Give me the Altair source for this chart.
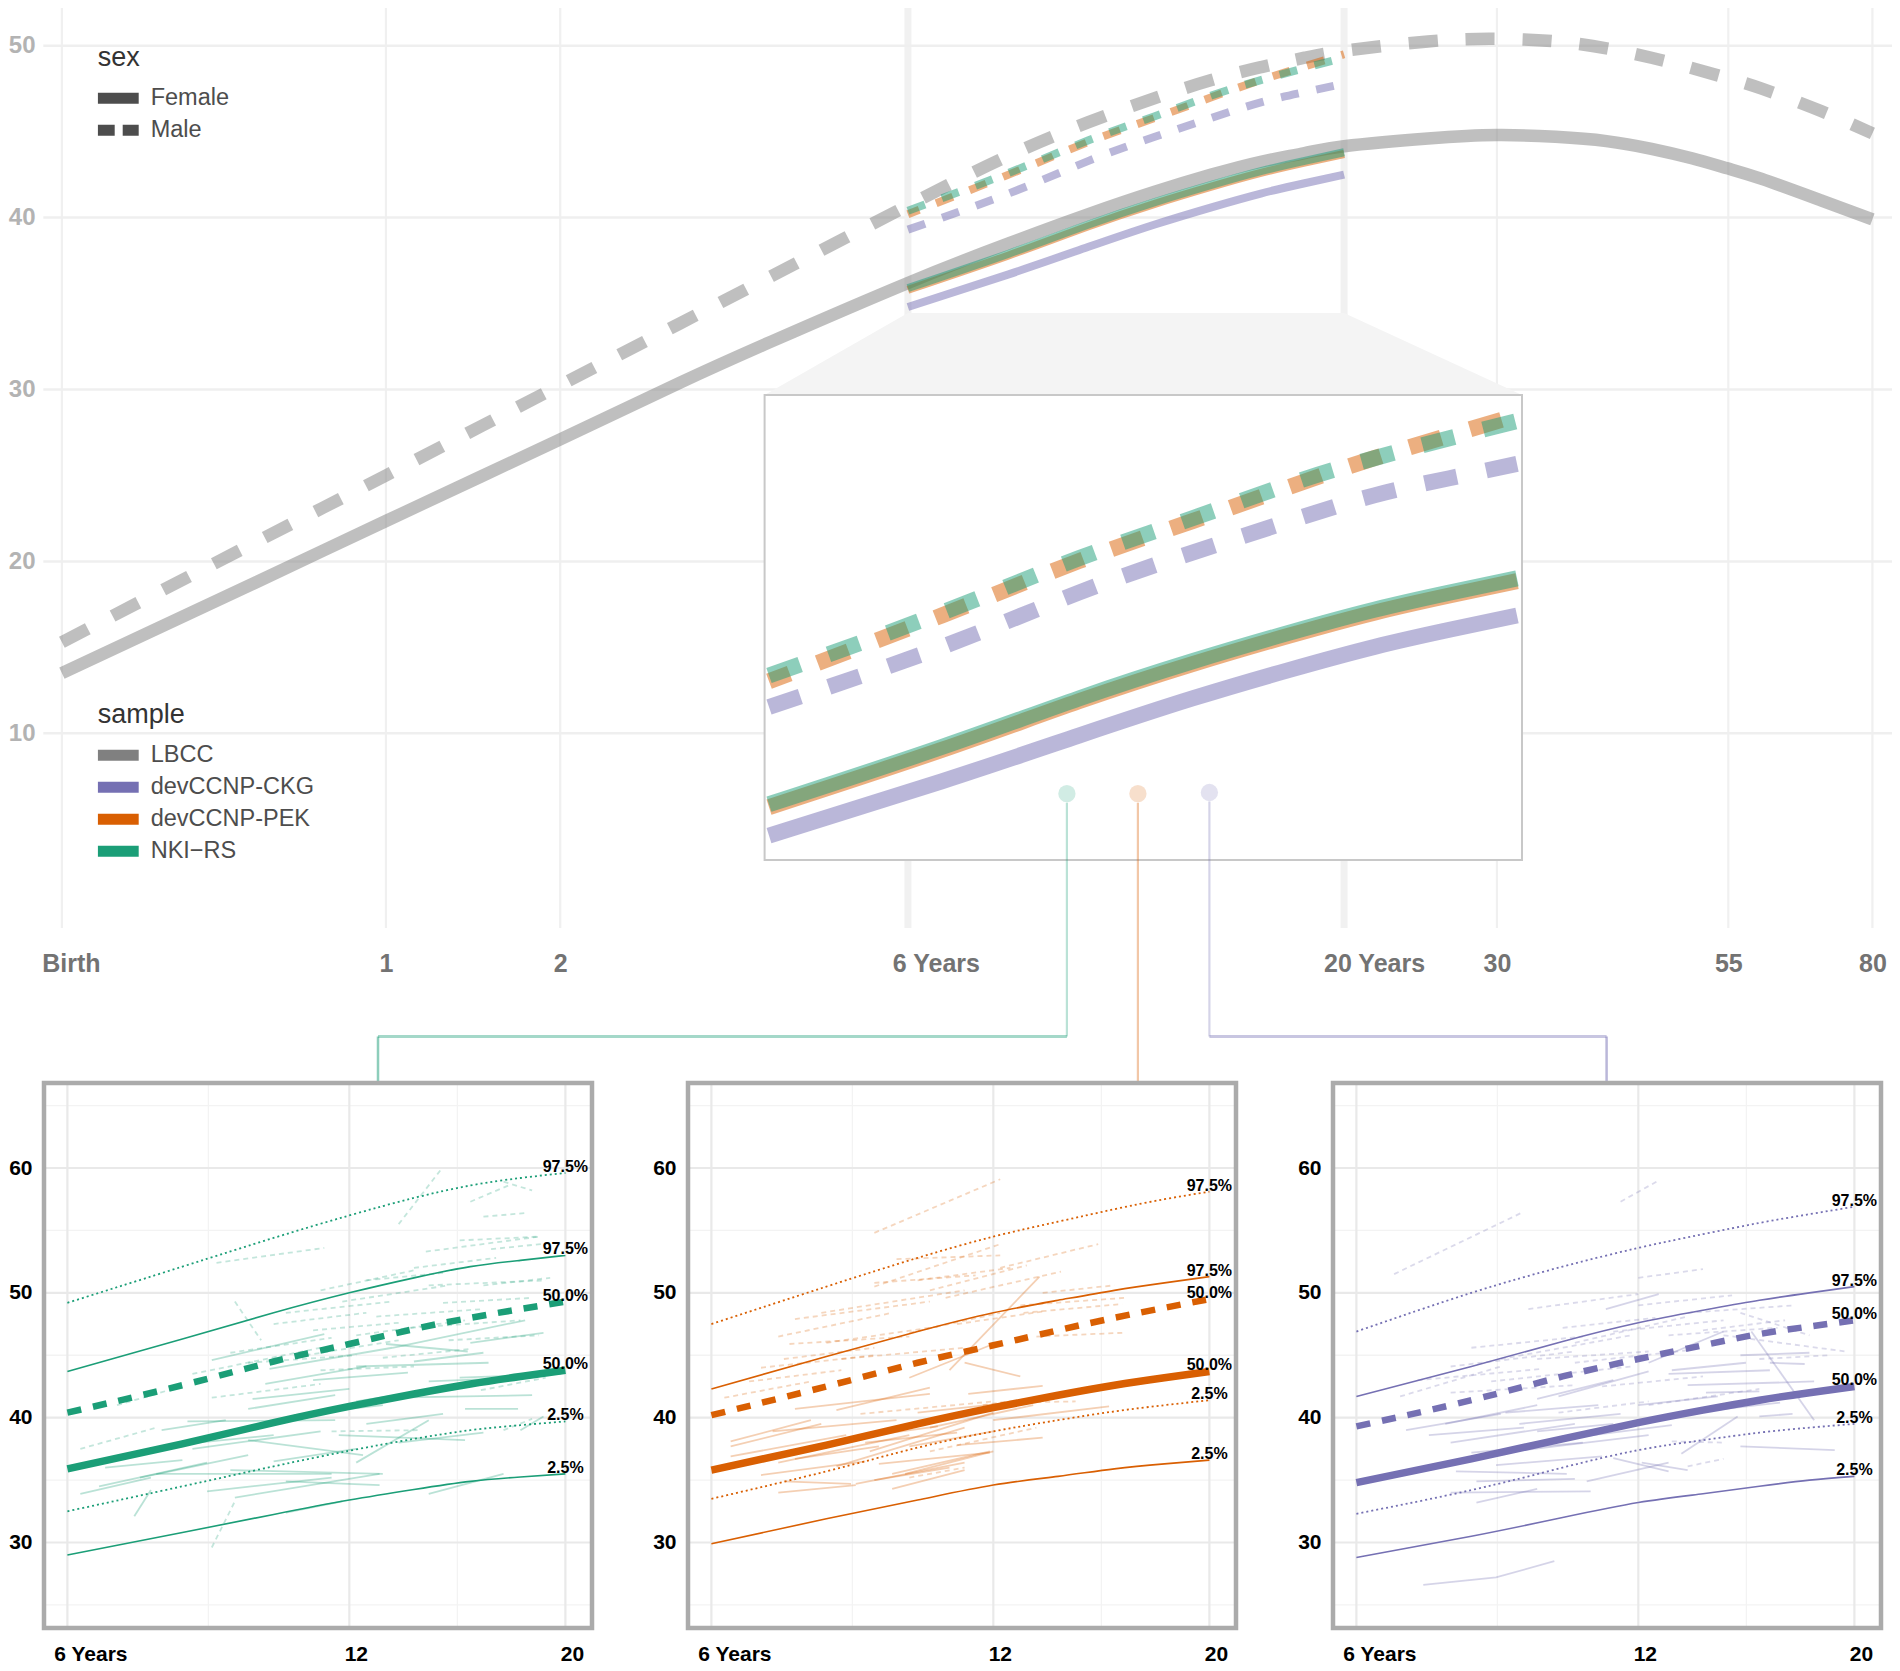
import math
import altair as alt
import pandas as pd

BIRTH = 40 / 52  # birth on the post-conception age scale (years)

# ---------------- data: LBCC reference curves (top chart) ----------------
lbcc_ages = [0, 0.5, 1, 2, 3, 4, 6, 8, 10, 12, 14, 16, 18, 20, 25, 30, 35, 40, 45, 50, 55, 60, 70, 80]
lbcc_female = [13.5, 18.8, 22.35, 27.1, 30.4, 32.8, 36.2, 38.5, 40.2, 41.5, 42.5, 43.25, 43.75, 44.15,
               44.6, 44.8, 44.7, 44.45, 44.0, 43.45, 42.85, 42.25, 41.0, 39.9]
lbcc_male = [15.3, 21.15, 25.0, 30.25, 33.85, 36.6, 40.7, 43.6, 45.55, 46.95, 48.0, 48.75, 49.3, 49.7,
             50.25, 50.4, 50.25, 49.85, 49.3, 48.7, 48.1, 47.5, 46.2, 44.9]

samples = ["LBCC", "devCCNP-CKG", "devCCNP-PEK", "NKI\u2212RS"]
sample_colors = ["#808080", "#7570b3", "#d95f02", "#1b9e77"]
sexes = ["Female", "Male"]

# ---------------- data: site curves, ages 6-20 ----------------
site_ages = [6, 8, 10, 12, 14, 16, 18, 20]
ckg_f50 = [34.8, 36.7, 38.3, 39.6, 40.6, 41.4, 42.0, 42.5]
ckg_m50 = [39.3, 41.4, 43.3, 44.7, 45.8, 46.7, 47.3, 47.8]
pek_f50 = [35.8, 37.8, 39.5, 40.8, 41.8, 42.6, 43.2, 43.7]
pek_m50 = [40.2, 42.5, 44.4, 45.8, 47.0, 48.0, 48.8, 49.5]
nki_f50 = [35.9, 37.9, 39.6, 40.9, 41.9, 42.7, 43.3, 43.8]
nki_m50 = [40.4, 42.6, 44.5, 45.9, 47.1, 48.0, 48.7, 49.3]

nki_f025 = [29.0, 30.8, 32.25, 33.4, 34.25, 34.9, 35.25, 35.5]
nki_f975 = [43.7, 46.3, 48.4, 50.0, 51.2, 52.1, 52.6, 53.0]
nki_m025 = [32.5, 34.5, 36.1, 37.35, 38.3, 39.0, 39.4, 39.7]
nki_m975 = [49.2, 52.1, 54.4, 56.2, 57.6, 58.6, 59.2, 59.6]
pek_f025 = [29.9, 31.9, 33.4, 34.6, 35.3, 35.9, 36.3, 36.6]
pek_f975 = [42.3, 44.9, 46.9, 48.4, 49.4, 50.2, 50.8, 51.3]
pek_m025 = [33.5, 35.7, 37.6, 38.9, 39.8, 40.5, 41.0, 41.4]
pek_m975 = [47.5, 50.5, 52.8, 54.5, 55.7, 56.7, 57.5, 58.1]
ckg_f025 = [28.8, 30.5, 32.0, 33.2, 33.9, 34.5, 35.0, 35.3]
ckg_f975 = [41.7, 44.1, 46.1, 47.6, 48.6, 49.4, 50.0, 50.5]
ckg_m025 = [32.3, 34.2, 36.0, 37.4, 38.2, 38.8, 39.2, 39.5]
ckg_m975 = [46.9, 50.0, 52.1, 53.6, 54.7, 55.6, 56.3, 56.9]

# ---------------- data: individual trajectories (age, value) ----------------
nki_traj_f = [
    [(6.2, 33.9), (7.4, 35.2)], [(6.5, 34.5), (8.5, 36.4)], [(7.2, 35.2), (9.4, 37.0)],
    [(7.5, 35.5), (11.5, 35.5)], [(7.1, 32.1), (7.4, 34.2)], [(8.5, 34.1), (11.5, 35.2)],
    [(9.1, 33.6), (12.9, 35.5)], [(10.3, 32.4), (11.8, 33.3)], [(8.2, 37.5), (11.2, 38.9)],
    [(7.6, 39.0), (8.9, 39.8)], [(8.1, 39.7), (11.6, 39.8)], [(9.4, 40.7), (11.6, 41.8)],
    [(9.8, 42.7), (12.5, 44.1)], [(8.6, 44.6), (11.3, 46.7)], [(9.9, 43.9), (13.3, 45.6)],
    [(13.3, 45.6), (18.2, 47.8)], [(13.1, 45.9), (15.9, 45.3)], [(12.2, 44.1), (16.7, 44.4)],
    [(14.5, 42.9), (17.9, 43.2)], [(12.2, 41.3), (14.5, 42.2)], [(13.3, 41.6), (18.5, 41.8)],
    [(11.7, 38.6), (15.8, 38.2)], [(12.2, 36.4), (14.5, 39.8)], [(14.5, 33.9), (17.3, 35.5)],
    [(18.0, 39.0), (19.0, 40.1)], [(15.8, 40.7), (17.9, 40.7)], [(9.0, 35.8), (13.0, 35.5)],
    [(9.4, 38.2), (12.4, 37.0)], [(15.6, 43.2), (19.8, 43.5)], [(10.3, 34.9), (12.9, 34.6)],
    [(9.5, 41.5), (12.0, 42.3)], [(10.5, 40.2), (13.0, 41.0)], [(11.0, 43.0), (13.8, 43.6)],
    [(7.8, 37.8), (10.0, 38.6)], [(12.5, 39.5), (15.0, 40.3)], [(14.0, 44.5), (16.5, 45.2)],
    [(16.0, 46.0), (19.0, 46.8)], [(10.0, 36.5), (12.2, 37.5)], [(6.6, 36.0), (8.0, 36.6)],
    [(13.5, 38.0), (16.5, 38.8)],
]
nki_traj_m = [
    [(6.2, 37.5), (7.5, 39.2)], [(6.8, 41.0), (7.9, 42.4)], [(8.2, 43.5), (11.2, 45.6)],
    [(9.1, 49.3), (9.7, 46.2)], [(8.7, 52.4), (11.3, 53.6)], [(13.5, 55.5), (14.9, 59.8)],
    [(16.5, 56.1), (18.3, 56.4)], [(17.3, 58.9), (18.5, 58.2)], [(16.0, 57.3), (17.5, 58.6)],
    [(14.4, 53.3), (18.8, 54.5)], [(11.2, 50.2), (14.0, 51.8)], [(11.8, 49.3), (15.2, 50.6)],
    [(12.8, 48.1), (16.5, 48.7)], [(14.5, 50.6), (19.1, 51.0)], [(13.9, 47.2), (18.0, 47.8)],
    [(10.8, 45.0), (13.5, 46.2)], [(11.2, 43.8), (14.0, 44.1)], [(15.2, 46.2), (18.8, 46.6)],
    [(8.6, 41.6), (11.2, 42.7)], [(16.4, 42.2), (19.1, 43.2)], [(11.5, 38.9), (14.2, 39.0)],
    [(17.3, 39.0), (18.5, 39.9)], [(8.6, 29.6), (9.1, 33.3)], [(15.6, 54.2), (18.8, 54.5)],
    [(10.3, 48.4), (13.3, 49.3)], [(12.2, 46.6), (15.8, 47.8)], [(16.5, 50.6), (19.3, 51.2)],
    [(9.4, 44.4), (12.2, 45.0)], [(10.0, 47.5), (12.5, 48.4)], [(12.5, 51.0), (15.0, 51.6)],
    [(14.0, 52.0), (17.0, 52.8)], [(15.0, 49.2), (18.5, 49.6)], [(9.0, 45.2), (11.5, 46.4)],
    [(16.8, 53.5), (19.4, 54.0)], [(13.0, 44.8), (16.0, 45.5)], [(11.0, 47.0), (13.5, 47.6)],
]
pek_traj_f = [
    [(6.3, 38.1), (7.7, 39.8)], [(6.3, 37.7), (7.9, 39.5)], [(7.4, 40.7), (10.3, 41.9)],
    [(8.2, 40.6), (10.3, 42.4)], [(6.3, 36.9), (8.4, 38.6)], [(7.1, 36.4), (9.8, 38.6)],
    [(8.2, 36.1), (11.2, 39.2)], [(8.9, 37.3), (12.0, 40.4)], [(9.4, 35.5), (11.9, 37.3)],
    [(8.6, 34.7), (11.2, 36.4)], [(7.1, 34.0), (8.6, 34.6)], [(7.2, 34.9), (8.5, 34.7)],
    [(9.8, 37.7), (12.0, 38.9)], [(10.3, 39.2), (13.2, 41.0)], [(11.3, 41.9), (13.5, 42.55)],
    [(9.8, 43.2), (12.0, 45.9)], [(11.2, 44.4), (12.8, 43.3)], [(10.8, 43.8), (13.4, 51.3)],
    [(12.0, 39.8), (15.8, 40.9)], [(9.7, 35.5), (12.0, 37.3)], [(7.4, 36.7), (9.1, 37.7)],
    [(9.1, 36.3), (11.9, 37.2)], [(8.4, 38.3), (10.5, 39.3)], [(9.4, 34.3), (11.2, 35.8)],
    [(7.0, 38.9), (9.5, 39.8)], [(8.8, 38.0), (11.0, 38.8)], [(10.0, 40.4), (12.5, 41.2)],
    [(9.0, 35.0), (10.8, 36.0)], [(6.8, 35.4), (8.8, 36.5)], [(11.0, 37.8), (13.5, 38.4)],
]
pek_traj_m = [
    [(9.0, 54.8), (12.2, 59.1)], [(9.0, 50.5), (12.2, 53.9)], [(9.5, 52.7), (12.2, 53.0)],
    [(7.4, 47.9), (10.3, 49.3)], [(7.1, 46.5), (9.4, 48.4)], [(10.3, 50.2), (13.0, 52.2)],
    [(10.7, 49.6), (14.1, 51.7)], [(12.2, 52.0), (15.4, 53.9)], [(12.8, 49.0), (16.4, 49.6)],
    [(12.9, 48.4), (16.3, 49.1)], [(7.3, 45.9), (9.8, 46.5)], [(8.3, 44.7), (11.2, 45.6)],
    [(13.3, 46.5), (16.3, 46.8)], [(6.6, 42.9), (8.3, 43.8)], [(6.2, 41.6), (7.7, 42.9)],
    [(8.7, 40.3), (12.0, 41.3)], [(12.2, 41.2), (14.6, 41.3)], [(11.7, 41.0), (13.3, 41.6)],
    [(7.9, 48.4), (11.2, 50.2)], [(9.0, 50.8), (11.5, 51.4)], [(9.8, 46.8), (12.2, 48.4)],
    [(7.2, 44.7), (9.0, 45.6)], [(10.3, 37.3), (13.3, 39.2)], [(9.8, 35.2), (11.2, 36.0)],
    [(8.0, 46.0), (10.5, 47.3)], [(11.0, 47.5), (13.5, 48.5)], [(6.8, 44.0), (9.0, 45.0)],
    [(10.0, 51.0), (12.5, 52.0)], [(13.5, 50.0), (16.0, 50.6)],
]
ckg_traj_f = [
    [(7.1, 26.6), (8.5, 27.2), (9.8, 28.5)], [(7.7, 35.7), (10.1, 35.5)], [(7.6, 34.0), (10.7, 34.1)],
    [(8.1, 33.2), (9.4, 34.3)], [(6.8, 39.0), (8.6, 40.3)], [(7.5, 39.5), (9.4, 41.0)],
    [(7.6, 38.0), (10.3, 39.5)], [(8.7, 40.4), (10.9, 41.0)], [(9.4, 41.5), (11.3, 43.0)],
    [(9.9, 41.7), (12.3, 43.7)], [(11.3, 36.75), (12.9, 35.7)], [(10.6, 34.9), (12.9, 36.4)],
    [(11.1, 48.7), (12.6, 49.9)], [(12.3, 44.4), (14.7, 46.9)], [(12.9, 43.5), (16.4, 43.8)],
    [(13.5, 42.6), (18.2, 42.9)], [(15.3, 45.0), (18.0, 45.2)], [(15.7, 46.9), (18.2, 39.8)],
    [(16.0, 40.1), (17.3, 40.3)], [(15.3, 37.7), (19.1, 37.4)], [(13.3, 37.1), (15.2, 40.1)],
    [(14.1, 42.0), (16.0, 42.1)], [(16.4, 44.4), (17.8, 44.3)], [(8.1, 34.9), (10.3, 35.1)],
    [(7.2, 38.6), (9.1, 39.2)], [(9.1, 37.4), (12.3, 38.6)], [(12.1, 36.4), (13.5, 35.8)],
    [(9.4, 38.9), (11.3, 39.5)], [(8.0, 37.2), (10.5, 38.0)], [(9.0, 39.5), (11.5, 40.3)],
    [(10.5, 38.5), (13.0, 39.4)], [(12.0, 41.0), (14.5, 41.7)], [(14.0, 40.5), (16.8, 41.2)],
    [(8.5, 36.2), (11.0, 36.9)], [(13.0, 43.8), (15.5, 44.4)],
]
ckg_traj_m = [
    [(6.6, 51.5), (9.1, 56.5)], [(11.5, 57.3), (12.6, 59.0)], [(9.2, 48.7), (12.0, 49.9)],
    [(12.0, 51.2), (14.0, 51.9)], [(6.7, 41.7), (8.6, 44.1)], [(7.6, 44.1), (10.3, 45.3)],
    [(8.6, 44.7), (11.8, 46.6)], [(10.3, 46.0), (13.5, 48.1)], [(11.3, 46.9), (14.7, 47.8)],
    [(13.5, 48.4), (17.4, 49.0)], [(14.7, 46.6), (19.6, 45.3)], [(15.3, 48.4), (18.0, 46.6)],
    [(12.3, 41.0), (16.0, 42.3)], [(13.5, 36.1), (14.7, 36.7)], [(7.6, 42.0), (10.3, 42.6)],
    [(8.4, 42.9), (11.8, 44.1)], [(9.4, 44.7), (12.3, 45.3)], [(12.9, 46.6), (16.7, 47.2)],
    [(16.0, 44.7), (18.9, 45.0)], [(9.9, 40.4), (12.3, 41.3)], [(13.0, 38.1), (14.7, 38.0)],
    [(10.3, 44.4), (13.5, 45.4)], [(8.0, 45.6), (10.5, 46.5)], [(10.0, 47.2), (12.5, 48.0)],
    [(12.0, 49.0), (15.0, 49.8)], [(14.0, 47.0), (17.0, 47.8)], [(7.0, 43.0), (9.5, 43.9)],
    [(11.0, 42.5), (14.0, 43.3)],
]

# ---------------- tick labels ----------------
top_tick_ages = [0, 1, 2, 6, 20, 30, 55, 80]
top_tick_labels = ["Birth", "1", "2", "6 Years", "20 Years", "30", "55", "80"]
top_y_ticks = [10, 20, 30, 40, 50]
zoom_ages = [6, 20]
panel_tick_ages = [6, 12, 20]
panel_tick_labels = ["6 Years", "12", "20"]
panel_y_ticks = [30, 40, 50, 60]
panel_y_minor = [25, 35, 45, 55, 65]
pct_labels = ["2.5%", "50.0%", "97.5%"]

# ---------------- layout (page pixels) ----------------
W, H = 1884, 1655
M = 8


def P(v):
    return v - M


FONT = "Liberation Sans, Arial, Helvetica, sans-serif"
top_x = alt.Scale(type="log", domain=[BIRTH, 80 + BIRTH], range=[P(61.9), P(1872.4)], nice=False)
top_y = alt.Scale(domain=[10, 50], range=[P(733.3), P(45.7)], nice=False, zero=False)
inset_x = alt.Scale(type="log", domain=[6 + BIRTH, 20 + BIRTH], range=[P(769), P(1517)], nice=False)
inset_y = alt.Scale(domain=[34, 50], range=[P(858.6), P(401.0)], nice=False, zero=False)
PANEL_DX = [0, 644, 1289]
panel_y = alt.Scale(domain=[30, 60], range=[P(1542.5), P(1168)], nice=False, zero=False)


def panel_x(k):
    d = PANEL_DX[k]
    return alt.Scale(type="log", domain=[6 + BIRTH, 20 + BIRTH],
                     range=[P(67.4 + d), P(565.4 + d)], nice=False)


def tx(age):
    lo, hi = math.log10(BIRTH), math.log10(80 + BIRTH)
    return 61.9 + (math.log10(age + BIRTH) - lo) / (hi - lo) * (1872.4 - 61.9)


def label_expr(ages, labels):
    expr = "''"
    for a, l in zip(reversed(ages), reversed(labels)):
        expr = f"abs(datum.value - {a + BIRTH:.5f}) < 0.01 ? '{l}' : {expr}"
    return expr


def curve_df(ages, values, cid="c"):
    return pd.DataFrame({"pca": [a + BIRTH for a in ages], "v": values, "id": cid})


def traj_df(trajs):
    rows = []
    for i, t in enumerate(trajs):
        for a, v in t:
            rows.append({"pca": a + BIRTH, "v": v, "id": f"t{i}"})
    return pd.DataFrame(rows)


def lines(df, xsc, ysc, color, width, opacity=1.0, dash=None, interp="natural", dash_offset=0):
    mk = dict(color=color, strokeWidth=width, opacity=opacity, interpolate=interp, strokeCap="butt")
    if dash is not None:
        mk["strokeDash"] = dash
        if dash_offset:
            mk["strokeDashOffset"] = dash_offset
    return alt.Chart(df).mark_line(**mk).encode(
        x=alt.X("pca:Q", scale=xsc, axis=None),
        y=alt.Y("v:Q", scale=ysc, axis=None),
        detail="id:N",
    )


one = pd.DataFrame({"k": [0]})


def vrule(x, y1, y2, color, width, opacity=1.0):
    return alt.Chart(one).mark_rule(color=color, strokeWidth=width, opacity=opacity).encode(
        x=alt.value(P(x)), y=alt.value(P(y1)), y2=alt.value(P(y2)))


def hrule(y, x1, x2, color, width, opacity=1.0):
    return alt.Chart(one).mark_rule(color=color, strokeWidth=width, opacity=opacity).encode(
        y=alt.value(P(y)), x=alt.value(P(x1)), x2=alt.value(P(x2)))


layers = []

# ---------------- top chart grid + axes ----------------
thin_ages = [a for a in top_tick_ages if a not in zoom_ages]
layers.append(
    alt.Chart(pd.DataFrame({"pca": [a + BIRTH for a in thin_ages]}))
    .mark_rule(color="#f0f0f0", strokeWidth=2.2)
    .encode(
        x=alt.X("pca:Q", scale=top_x, axis=alt.Axis(
            values=[a + BIRTH for a in top_tick_ages], labelExpr=label_expr(top_tick_ages, top_tick_labels),
            orient="bottom", offset=P(963) - H, grid=False, domain=False, ticks=False, tickSize=0,
            labelPadding=0, labelBaseline="middle", labelFontSize=25, labelFontWeight="bold",
            labelColor="#737373", labelFlush=False, labelOverlap=False, labelFont=FONT, title=None,
            labelOffset={"condition": [
                {"test": "datum.value < 1", "value": 9},
                {"test": "datum.value > 6.5 && datum.value < 7.5", "value": 28},
                {"test": "datum.value > 20.5 && datum.value < 21.5", "value": 30}], "value": 0})),
        y=alt.value(0), y2=alt.value(P(928)))
)
layers.append(
    alt.Chart(pd.DataFrame({"pca": [a + BIRTH for a in zoom_ages]}))
    .mark_rule(color="#f1f1f1", strokeWidth=7)
    .encode(x=alt.X("pca:Q", scale=top_x, axis=None), y=alt.value(0), y2=alt.value(P(928)))
)
layers.append(
    alt.Chart(pd.DataFrame({"v": top_y_ticks}))
    .mark_rule(color="#efefef", strokeWidth=2.5)
    .encode(
        y=alt.Y("v:Q", scale=top_y, axis=alt.Axis(
            values=top_y_ticks, orient="left", offset=-P(35), grid=False, domain=False, ticks=False,
            tickSize=0, labelPadding=0, labelFontSize=24, labelFontWeight="bold", labelColor="#b3b3b3",
            labelFont=FONT, format="d", title=None, labelFlush=False)),
        x=alt.value(P(43.3)), x2=alt.value(W))
)

# ---------------- top chart curves ----------------
layers.append(lines(curve_df(lbcc_ages, lbcc_female), top_x, top_y, sample_colors[0], 12.5, 0.5))
layers.append(lines(curve_df(lbcc_ages, lbcc_male), top_x, top_y, sample_colors[0], 12.5, 0.5, [29, 28]))
site_f = [ckg_f50, pek_f50, nki_f50]
site_m = [ckg_m50, pek_m50, nki_m50]
top_offsets = [0, 6, 0]
inset_offsets = [0, 11, 0]
for i in range(3):
    layers.append(lines(curve_df(site_ages, site_f[i]), top_x, top_y, sample_colors[i + 1], 8, 0.5))
    layers.append(lines(curve_df(site_ages, site_m[i]), top_x, top_y, sample_colors[i + 1], 8, 0.5,
                        [18, 18], dash_offset=top_offsets[i]))

# ---------------- zoom trapezoid + inset ----------------
INSET = (764.6, 395, 1522, 860)
trap = pd.DataFrame({"y": [P(313), P(INSET[1])], "x": [P(tx(zoom_ages[0])), P(INSET[0])],
                     "x2": [P(tx(zoom_ages[1])), P(INSET[2])]})
layers.append(
    alt.Chart(trap).mark_area(orient="horizontal", color="#f4f4f4").encode(
        y=alt.Y("y:Q", scale=None, axis=None), x=alt.X("x:Q", scale=None, axis=None), x2="x2:Q")
)
layers.append(
    alt.Chart(one).mark_rect(fill="white", stroke="#c8c8c8", strokeWidth=2).encode(
        x=alt.value(P(INSET[0])), x2=alt.value(P(INSET[2])), y=alt.value(P(INSET[1])), y2=alt.value(P(INSET[3])))
)
for i in range(3):
    layers.append(lines(curve_df(site_ages, site_f[i]), inset_x, inset_y, sample_colors[i + 1], 16, 0.5))
    layers.append(lines(curve_df(site_ages, site_m[i]), inset_x, inset_y, sample_colors[i + 1], 16, 0.5,
                        [33, 30], dash_offset=inset_offsets[i]))

# ---------------- connectors ----------------
DOTS = [(1066.9, 793.7), (1137.9, 793.7), (1209.4, 792.5)]
ELBOW_Y = 1036.5
PANEL_TOP = 1083
layers.append(vrule(DOTS[0][0], DOTS[0][1] + 9, ELBOW_Y, "#1b9e77", 2.2, 0.3))
layers.append(hrule(ELBOW_Y, 378, DOTS[0][0], "#1b9e77", 3.2, 0.4))
layers.append(vrule(378, ELBOW_Y, PANEL_TOP, "#1b9e77", 2.5, 0.5))
layers.append(vrule(DOTS[1][0], DOTS[1][1] + 9, PANEL_TOP, "#d95f02", 2.2, 0.35))
layers.append(vrule(DOTS[2][0], DOTS[2][1] + 9, ELBOW_Y, "#7570b3", 2.2, 0.3))
layers.append(hrule(ELBOW_Y, DOTS[2][0], 1606.6, "#7570b3", 3.2, 0.4))
layers.append(vrule(1606.6, ELBOW_Y, PANEL_TOP, "#7570b3", 2.5, 0.5))
for (dx_, dy_), c in zip(DOTS, ["#1b9e77", "#d95f02", "#7570b3"]):
    layers.append(alt.Chart(one).mark_circle(size=300, color=c, opacity=0.2).encode(
        x=alt.value(P(dx_)), y=alt.value(P(dy_))))

# ---------------- bottom panels ----------------
panel_specs = [
    (sample_colors[3], nki_f50, nki_m50, nki_f025, nki_f975, nki_m025, nki_m975, nki_traj_f, nki_traj_m),
    (sample_colors[2], pek_f50, pek_m50, pek_f025, pek_f975, pek_m025, pek_m975, pek_traj_f, pek_traj_m),
    (sample_colors[1], ckg_f50, ckg_m50, ckg_f025, ckg_f975, ckg_m025, ckg_m975, ckg_traj_f, ckg_traj_m),
]
maj_pca = [a + BIRTH for a in panel_tick_ages]
min_pca = [math.sqrt(maj_pca[i] * maj_pca[i + 1]) for i in range(len(maj_pca) - 1)]
for k, (col, f50, m50, f025, f975, m025, m975, tf, tm) in enumerate(panel_specs):
    d = PANEL_DX[k]
    xsc = panel_x(k)
    left, right, top, bottom = 44 + d, 592 + d, 1083, 1628
    # grid
    layers.append(alt.Chart(pd.DataFrame({"pca": min_pca})).mark_rule(color="#f3f3f3", strokeWidth=1.3).encode(
        x=alt.X("pca:Q", scale=xsc, axis=None), y=alt.value(P(top + 2)), y2=alt.value(P(bottom - 2))))
    layers.append(alt.Chart(pd.DataFrame({"v": panel_y_minor})).mark_rule(color="#f3f3f3", strokeWidth=1.3).encode(
        y=alt.Y("v:Q", scale=panel_y, axis=None), x=alt.value(P(left + 2)), x2=alt.value(P(right - 2))))
    layers.append(alt.Chart(pd.DataFrame({"pca": maj_pca})).mark_rule(color="#e9e9e9", strokeWidth=2.2).encode(
        x=alt.X("pca:Q", scale=xsc, axis=alt.Axis(
            values=maj_pca, labelExpr=label_expr(panel_tick_ages, panel_tick_labels), orient="bottom",
            offset=P(1654) - H, grid=False, domain=False, ticks=False, tickSize=0, labelPadding=0,
            labelBaseline="middle", labelFontSize=21, labelFontWeight="bold", labelColor="#000000",
            labelFlush=False, labelOverlap=False, labelFont=FONT, title=None,
            labelOffset={"condition": [{"test": "datum.value < 7.5", "value": 23}], "value": 6.5})),
        y=alt.value(P(top + 2)), y2=alt.value(P(bottom - 2))))
    layers.append(alt.Chart(pd.DataFrame({"v": panel_y_ticks})).mark_rule(color="#e9e9e9", strokeWidth=2.2).encode(
        y=alt.Y("v:Q", scale=panel_y, axis=alt.Axis(
            values=panel_y_ticks, orient="left", offset=-P(32 + d), grid=False, domain=False, ticks=False,
            tickSize=0, labelPadding=0, labelFontSize=21, labelFontWeight="bold", labelColor="#000000",
            labelFont=FONT, format="d", title=None, labelFlush=False)),
        x=alt.value(P(left + 2)), x2=alt.value(P(right - 2))))
    # individual trajectories
    layers.append(lines(traj_df(tf), xsc, panel_y, col, 1.8, 0.3, interp="linear"))
    layers.append(lines(traj_df(tm), xsc, panel_y, col, 1.8, 0.26, [5, 4], interp="linear"))
    # percentile curves
    layers.append(lines(curve_df(site_ages, f025), xsc, panel_y, col, 1.6))
    layers.append(lines(curve_df(site_ages, f975), xsc, panel_y, col, 1.6))
    layers.append(lines(curve_df(site_ages, m025), xsc, panel_y, col, 1.8, dash=[2, 3]))
    layers.append(lines(curve_df(site_ages, m975), xsc, panel_y, col, 1.8, dash=[2, 3]))
    layers.append(lines(curve_df(site_ages, f50), xsc, panel_y, col, 7.5))
    layers.append(lines(curve_df(site_ages, m50), xsc, panel_y, col, 6.5, dash=[14, 12]))
    # percentile labels
    ends = [f025[-1], f50[-1], f975[-1], m025[-1], m50[-1], m975[-1]]
    lab = pd.DataFrame({"pca": [site_ages[-1] + BIRTH] * 6, "v": ends, "label": pct_labels * 2})
    layers.append(alt.Chart(lab).mark_text(align="center", baseline="alphabetic", dy=-1, fontSize=16,
                                           fontWeight="bold", color="#000000", font=FONT).encode(
        x=alt.X("pca:Q", scale=xsc, axis=None), y=alt.Y("v:Q", scale=panel_y, axis=None), text="label:N"))
    # border
    layers.append(alt.Chart(one).mark_rect(fillOpacity=0, stroke="#ababab", strokeWidth=4.5).encode(
        x=alt.value(P(left)), x2=alt.value(P(right)), y=alt.value(P(top)), y2=alt.value(P(bottom))))

# ---------------- legends ----------------
leg_common = dict(orient="none", symbolType="stroke", symbolSize=1681, symbolStrokeWidth=11,
                  clipHeight=31.7, titleFontSize=27, titleFontWeight="normal", titleColor="#333333",
                  labelFontSize=23.5, labelColor="#4d4d4d", titlePadding=11, labelOffset=6.5,
                  symbolOffset=-5.5, padding=0, rowPadding=0, labelFont=FONT, titleFont=FONT,
                  labelLimit=500)
leg_df_s = pd.DataFrame({"sample": samples, "pca": [1.0] * 4, "v": [5.0] * 4})
layers.append(alt.Chart(leg_df_s).mark_line(strokeWidth=11).encode(
    x=alt.X("pca:Q", scale=top_x, axis=None), y=alt.Y("v:Q", scale=top_y, axis=None),
    color=alt.Color("sample:N", scale=alt.Scale(domain=samples, range=sample_colors),
                    legend=alt.Legend(title="sample", legendX=P(97.7), legendY=P(701.5), **leg_common))))
leg_df_x = pd.DataFrame({"sex": sexes, "pca": [1.0] * 2, "v": [5.0] * 2})
layers.append(alt.Chart(leg_df_x).mark_line(strokeWidth=11, color="#4d4d4d").encode(
    x=alt.X("pca:Q", scale=top_x, axis=None), y=alt.Y("v:Q", scale=top_y, axis=None),
    strokeDash=alt.StrokeDash("sex:N", scale=alt.Scale(domain=sexes, range=[[1, 0], [17, 8]]),
                              legend=alt.Legend(title="sex", legendX=P(97.7), legendY=P(44.5), **leg_common))))

chart = (
    alt.layer(*layers)
    .resolve_scale(x="independent", y="independent")
    .resolve_axis(x="independent", y="independent")
    .properties(width=W, height=H, autosize=alt.AutoSizeParams(type="none"), padding=0)
    .configure(font=FONT)
    .configure_view(stroke=None)
)

chart.save("out.html", embed_options={"renderer": "svg", "actions": False})
